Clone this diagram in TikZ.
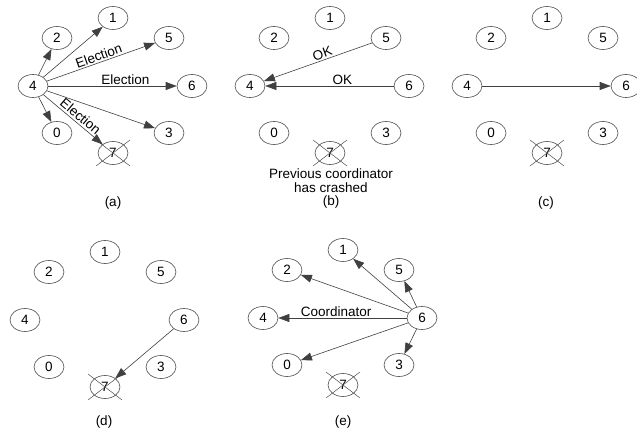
\documentclass[tikz,border=0pt]{standalone}
\usepackage{fontspec}
\setmainfont{Liberation Sans}
\usetikzlibrary{arrows.meta,shapes.geometric}

\newcommand\lblfont{\fontsize{13.5bp}{14bp}\selectfont}

\tikzset{
  proc/.style={ellipse, draw=black!70, line width=0.6bp,
    minimum width=30bp, minimum height=23bp, inner sep=0pt},
  msg/.style={draw=black!75, line width=0.6bp,
    -{Triangle[length=11bp,width=8bp]}},
  crossline/.style={draw=black!70, line width=0.5bp},
  lbl/.style={inner sep=1.5bp},
}

% Eight processes arranged around process 4 at (#2,#3); #1 prefixes the names
\newcommand\placering[3]{%
  \begin{scope}[shift={(#2,#3)}]
    \node[proc] (#1-4) at (0,0) {4};
    \node[proc] (#1-1) at (80,-68) {1};
    \node[proc] (#1-2) at (24,-48) {2};
    \node[proc] (#1-5) at (136,-48) {5};
    \node[proc] (#1-6) at (159,0) {6};
    \node[proc] (#1-0) at (24,47) {0};
    \node[proc] (#1-3) at (136,47) {3};
    \node[proc] (#1-7) at (80,67) {7};
    % process 7 has crashed
    \draw[crossline] (#1-7.center) +(-17,-13) -- +(17,13)
                                   +(-17,13) -- +(17,-13);
  \end{scope}}

\begin{document}
\begin{tikzpicture}[x=1bp, y=-1bp, font=\lblfont]
  \useasboundingbox (0,0) rectangle (637,435);

  % (a) process 4 starts an election
  \placering{a}{33}{86}
  \draw[msg] (a-4) -- (a-2);
  \draw[msg] (a-4) -- (a-1);
  \draw[msg] (a-4) -- node[lbl, sloped, above, pos=0.5] {Election} (a-5);
  \draw[msg] (a-4) -- node[lbl, above, pos=0.6] {Election} (a-6);
  \draw[msg] (a-4) -- (a-3);
  \draw[msg] (a-4) -- (a-0);
  \draw[msg] (a-4) -- node[lbl, sloped, above=1.5bp, pos=0.55, inner sep=0.5bp] {Election} (a-7);
  \node (cap-a) at (113,203) {(a)};

  % (b) processes 5 and 6 answer OK
  \placering{b}{250}{86}
  \draw[msg] (b-5) -- node[lbl, sloped, above, pos=0.44] {OK} (b-4);
  \draw[msg] (b-6) -- node[lbl, above, pos=0.4] {OK} (b-4);
  \node[align=center] (note-b) at (331,181) {Previous coordinator\\has crashed};
  \node (cap-b) at (331,202) {(b)};

  % (c) process 6 holds an election
  \placering{c}{467}{86}
  \draw[msg] (c-4) -- (c-6);
  \node (cap-c) at (546,203) {(c)};

  % (d) process 6 probes process 7
  \placering{d}{25}{320}
  \draw[msg] (d-6) -- (d-7);
  \node (cap-d) at (104,422) {(d)};

  % (e) process 6 announces itself as coordinator
  \placering{e}{263}{318}
  \draw[msg] (e-6) -- (e-1);
  \draw[msg] (e-6) -- (e-2);
  \draw[msg] (e-6) -- node[lbl, above, pos=0.55] {Coordinator} (e-4);
  \draw[msg] (e-6) -- (e-0);
  \draw[msg] (e-6) -- (e-3);
  \draw[msg] (e-6) -- (e-5);
  \node (cap-e) at (343,422) {(e)};
\end{tikzpicture}
\end{document}
